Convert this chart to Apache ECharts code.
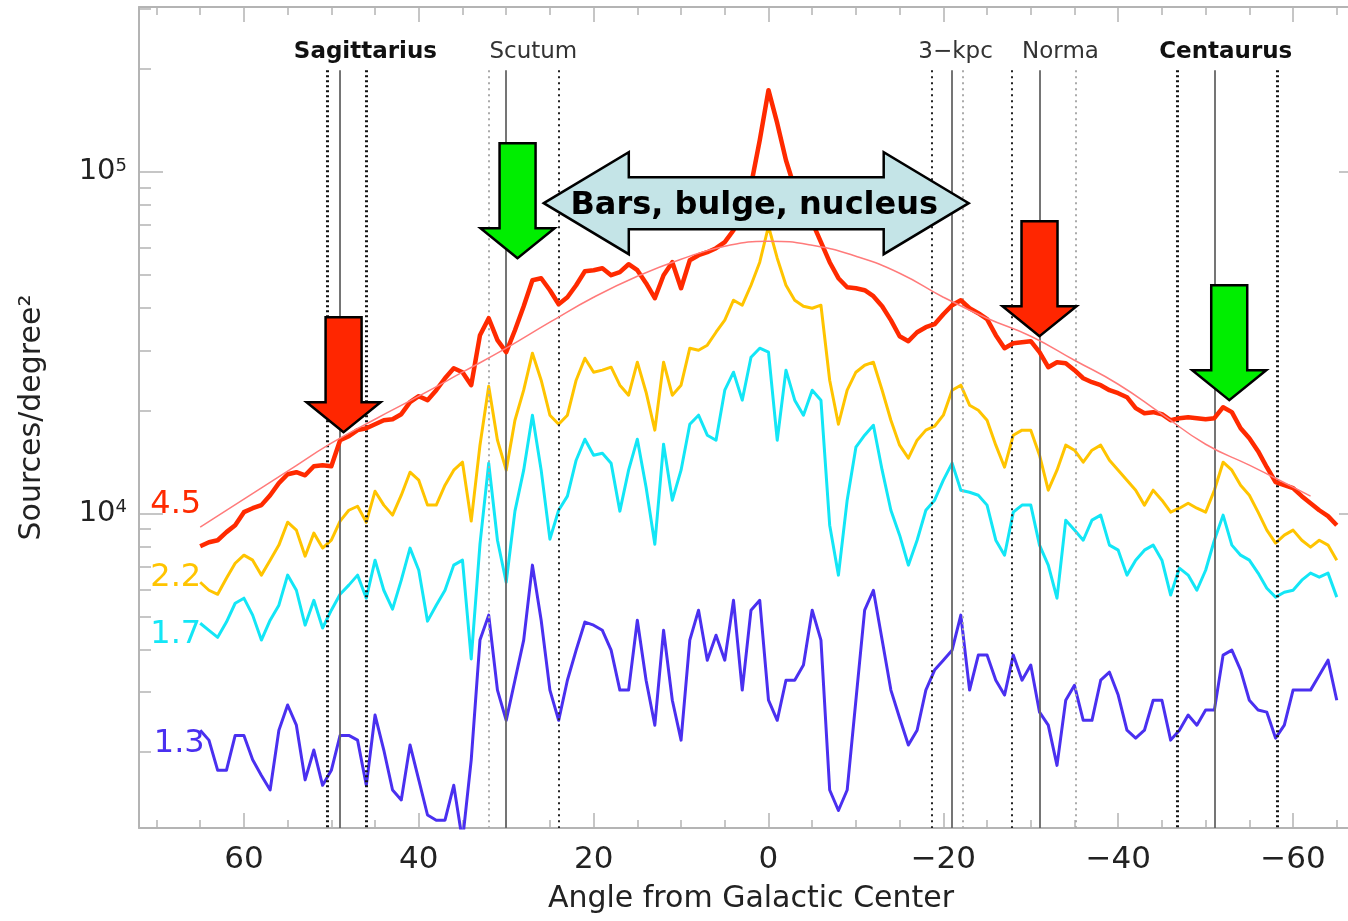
<!DOCTYPE html>
<html>
<head>
<meta charset="utf-8">
<script src="https://cdn.jsdelivr.net/npm/echarts@6/dist/echarts.min.js"></script>
<style>
html,body{margin:0;padding:0;background:#fff;}
#chart{width:1348px;height:921px;}
</style>
</head>
<body>
<div id="chart"></div>
<script>
// ---------------- DATA ----------------
const angles = [65,64,63,62,61,60,59,58,57,56,55,54,53,52,51,50,49,48,47,46,45,44,43,42,41,40,39,38,37,36,35,34,33,32,31,30,29,28,27,26,25,24,23,22,21,20,19,18,17,16,15,14,13,12,11,10,9,8,7,6,5,4,3,2,1,0,-1,-2,-3,-4,-5,-6,-7,-8,-9,-10,-11,-12,-13,-14,-15,-16,-17,-18,-19,-20,-21,-22,-23,-24,-25,-26,-27,-28,-29,-30,-31,-32,-33,-34,-35,-36,-37,-38,-39,-40,-41,-42,-43,-44,-45,-46,-47,-48,-49,-50,-51,-52,-53,-54,-55,-56,-57,-58,-59,-60,-61,-62,-63,-64,-65];

const mag45 = [8020,8240,8350,8820,9240,10090,10360,10580,11310,12270,13030,13210,12940,13750,13850,13750,16390,16840,17540,17770,18250,18750,18880,19530,21180,22050,21470,22960,24890,26630,25920,23750,33270,37300,32170,29670,34400,40450,48190,48850,45050,41000,42970,46590,51210,51560,52260,49850,50870,53680,51560,47220,42680,49850,54410,45660,55150,57040,58200,59790,62270,67500,78300,91430,123800,173500,138900,108200,89600,77250,71260,62270,54410,48850,45970,45660,45050,43260,40450,36810,33040,31950,33940,35110,35830,38320,40720,42110,39900,38590,37060,33270,30470,31510,31720,31950,29670,26810,27730,27540,26280,24890,24230,23750,22960,22500,21900,20340,19660,19800,19530,18750,19010,19140,19010,18880,19010,20470,19800,17770,16610,15220,13660,12350,12100,11860,11240,10720,10220,9820,9240];

const mag22 = [6290,5960,5800,6465,7150,7550,7300,6600,7300,8080,9430,8940,7500,8760,7920,8350,9500,10220,10500,9430,11620,10580,9890,11310,13210,12520,10580,10580,12100,13390,14130,9500,15850,23590,16390,13390,18750,22960,29470,24560,19400,18250,19400,24560,28490,25920,26280,26810,23750,22200,27730,22650,17540,27730,22200,23750,30470,30060,31100,33940,36810,42110,40720,46590,54410,69340,55900,46590,42110,40450,39900,40720,24560,18250,22960,25920,27170,27730,22960,18750,15850,14520,16390,17540,18010,19400,22960,23750,20750,20060,18750,15850,13660,16950,17540,17540,14810,11700,13390,15850,15320,14130,15320,15850,14320,13390,12520,11700,10580,11700,10940,10090,10360,10720,10360,10090,11700,14130,13390,12100,11310,10090,8940,8190,8640,8940,8350,7970,8350,8080,7300];

const mag17 = [4770,4550,4340,4810,5460,5650,5040,4260,4870,5390,6600,5960,4710,5570,4620,5210,5800,6170,6600,5650,7300,5960,5250,6380,7920,6820,4840,5390,5960,7060,7300,3750,8130,14040,8350,6290,10160,13390,19400,13390,8410,10220,11240,14320,16500,14810,15010,14040,10160,13390,16500,11940,8130,15960,10940,13390,18250,19400,16950,16390,22960,25920,21470,28680,30470,29670,16390,26280,21470,19400,22960,21470,9240,6600,10940,15640,16950,18130,13390,10220,8640,7060,8350,10220,10940,12520,14040,11700,11540,11310,10580,8350,7550,10090,10580,10580,8080,7060,5650,9560,8940,8350,9560,9890,8080,7810,6600,7300,7810,8080,7300,5770,6920,6600,5960,6820,8350,9890,8080,7550,7300,6690,6040,5690,5880,5960,6380,6690,6510,6690,5690];

const mag13 = [2320,2170,1770,1770,2240,2240,1900,1710,1550,2320,2750,2400,1660,2030,1600,1770,2240,2240,2170,1600,2570,2030,1550,1450,2100,1660,1310,1265,1265,1600,1100,1900,4260,5040,3040,2480,3250,4260,7060,4870,3040,2480,3250,3980,4810,4710,4550,3980,3040,3040,4870,3250,2400,4550,2840,2170,4260,5210,3720,4400,3720,5570,3040,5210,5570,2840,2480,3250,3250,3600,5210,4260,1550,1350,1550,2840,5210,5960,4260,3040,2520,2100,2320,3040,3480,3720,3980,5040,3040,3850,3850,3250,2940,3850,3250,3600,2620,2400,1830,2840,3140,2480,2480,3250,3430,2940,2320,2200,2320,2840,2840,2170,2320,2570,2400,2660,2660,3850,3980,3480,2840,2660,2620,2200,2400,3040,3040,3040,3360,3720,2840];

// smooth model fit to the 4.5 curve
const fitAngles = [65,60,55,50,45,40,35,30,25,20,15,10,5,0,-5,-10,-15,-20,-25,-30,-35,-40,-45,-50,-55,-60,-62];
const fitValues = [9120,11010,13300,16060,18880,22050,25920,30470,36310,42970,49510,55520,60610,62670,61020,56650,50520,42970,37300,33040,28100,23900,19530,15950,13850,11940,11240];

const seriesNames = ['4.5','2.2','1.7','1.3'];

// spiral-arm tangent markers (angles)
const armNames = ['Sagittarius','Scutum','3\u2212kpc','Norma','Centaurus'];
const armLabelAngles = [46.1, 26.9, -21.4, -33.4, -52.3];
const solidLines = [49, 30, -21, -31, -51];
const boldDotted = [50.5, 46, -46.7, -58.2];
const midDotted = [24, -18.7, -27.8];
const lightDotted = [32, -22.2, -35.2];

const xMajorTicks = [-60,-40,-20,0,20,40,60];
const xMinorTicks = [-65,-55,-50,-45,-35,-30,-25,-15,-10,-5,5,10,15,25,30,35,45,50,55,65,70];
const yMajorTicks = [10000,100000];
const yMinorTicks = [2000,3000,4000,5000,6000,7000,8000,9000,20000,30000,40000,50000,60000,70000,80000,90000,200000,300000];

// ---------------- STYLE ----------------
const colors = ['#ff2a00','#ffc400','#13e6f6','#4a30f0'];
const widths = [4.5,3,3,3];
const FONT = 'DejaVu Sans';
const frame = '#b4b4b4';
const LINE_TOP = 198500; // top value of arm marker lines

const chart = echarts.init(document.getElementById('chart'), null, {renderer:'canvas'});

function xAxisDef(pos, ticks, len, showLine, showLabel){
  return {
    type:'value', position:pos, min:-68, max:72, inverse:true, gridIndex:0,
    axisLine:{show:showLine, onZero:false, lineStyle:{color:frame, width:2}},
    splitLine:{show:false},
    axisTick:{show:true, inside:true, length:len, customValues:ticks, lineStyle:{color:frame, width:1.5}},
    axisLabel:{show:showLabel, customValues:ticks, margin:16, color:'#222', fontSize:31, fontFamily:FONT,
      formatter:function(v){ return v<0 ? '\u2212'+Math.abs(v) : String(v); }}
  };
}
function yAxisDef(pos, ticks, len, showLine, showLabel, withName){
  const a = {
    type:'log', logBase:10, position:pos, min:1200, max:304000, gridIndex:0,
    axisLine:{show:showLine, onZero:false, lineStyle:{color:frame, width:2}},
    splitLine:{show:false},
    axisTick:{show:true, inside:true, length:len, customValues:ticks, lineStyle:{color:frame, width:1.5}},
    axisLabel:{show:showLabel, customValues:ticks, margin:12, color:'#222', fontSize:29, fontFamily:FONT,
      formatter:function(v){ return '10{s|' + Math.round(Math.log10(v)) + '}'; },
      rich:{s:{fontSize:18, verticalAlign:'top', color:'#222', fontFamily:FONT, padding:[0,0,12,0]}}}
  };
  if(withName){
    a.name = 'Sources/degree\u00b2';
    a.nameLocation = 'middle';
    a.nameGap = 92;
    a.nameTextStyle = {fontSize:30, color:'#222', fontFamily:FONT};
  }
  return a;
}

const mags = [mag45, mag22, mag17, mag13];
const series = mags.map(function(arr, k){
  return {
    name: seriesNames[k], type:'line', xAxisIndex:0, yAxisIndex:0,
    data: angles.map(function(a,i){ return [a, arr[i]]; }),
    showSymbol:false, symbol:'none', clip:true, silent:true,
    lineStyle:{color:colors[k], width:widths[k], join:'round'},
    z: 5 - k
  };
});
series.push({
  name:'fit', type:'line', xAxisIndex:0, yAxisIndex:0, smooth:true, symbol:'none', silent:true,
  data: fitAngles.map(function(a,i){ return [a, fitValues[i]]; }),
  lineStyle:{color:'#ff7b7b', width:1.5}, z:6
});

function vlines(list, style){
  return list.map(function(a){ return [{coord:[a, LINE_TOP], lineStyle:style}, {coord:[a, 1200]}]; });
}
series.push({
  name:'arms', type:'line', xAxisIndex:0, yAxisIndex:0, data:[], silent:true, z:2,
  markLine:{
    symbol:['none','none'], silent:true, animation:false, label:{show:false},
    data: [].concat(
      vlines(solidLines, {color:'#666', width:1.8, type:'solid'}),
      vlines(boldDotted, {color:'#111', width:3, type:[2,3]}),
      vlines(midDotted, {color:'#222', width:2, type:[2,4]}),
      vlines(lightDotted, {color:'#aaa', width:2, type:[2,4]})
    )
  }
});

chart.setOption({
  animation:false,
  backgroundColor:'#fff',
  grid:{left:139, right:-15, top:7, bottom:93, outerBoundsMode:'none', containLabel:false},
  xAxis:[
    Object.assign(xAxisDef('bottom', xMajorTicks, 15, true, true), {
      name:'Angle from Galactic Center', nameLocation:'middle', nameGap:56,
      nameTextStyle:{fontSize:30, color:'#222', fontFamily:FONT}
    }),
    xAxisDef('bottom', xMinorTicks, 8, false, false),
    xAxisDef('top', xMajorTicks, 15, true, false),
    xAxisDef('top', xMinorTicks, 8, false, false)
  ],
  yAxis:[
    yAxisDef('left', yMajorTicks, 24, true, true, true),
    yAxisDef('left', yMinorTicks, 12, false, false, false),
    yAxisDef('right', yMajorTicks, 24, true, false, false),
    yAxisDef('right', yMinorTicks, 12, false, false, false)
  ],
  series: series
});

// ---------------- ANNOTATIONS (anchored to data coordinates) ----------------
const seriesLabelAnchors = [[67.8,10580],[67.8,6470],[67.8,4420],[67.4,2120]];
const arrowTips = [
  {angle:48.6, value:17300, color:'#ff2600'},
  {angle:-31.0, value:33040, color:'#ff2600'},
  {angle:28.7, value:55900, color:'#00ee00'},
  {angle:-52.7, value:21470, color:'#00ee00'}
];
const bandStart = 25.7, bandEnd = -22.9, bandValue = 81000;

function px(a, v){ return chart.convertToPixel({xAxisIndex:0, yAxisIndex:0}, [a, v]); }

const g = [];
armNames.forEach(function(n, i){
  const p = px(armLabelAngles[i], 100000);
  g.push({type:'text', x:p[0], y:52, z:50, style:{text:n, fontSize:23, fontFamily:FONT,
    fontWeight:(i===0||i===4)?'bold':'normal', fill:(i===0||i===4)?'#111':'#333', align:'center', verticalAlign:'middle'}});
});
seriesNames.forEach(function(n, k){
  const p = px(seriesLabelAnchors[k][0], seriesLabelAnchors[k][1]);
  g.push({type:'text', x:p[0], y:p[1], z:50, style:{text:n, fontSize:32, fontFamily:FONT, fill:colors[k], align:'center', verticalAlign:'middle'}});
});
arrowTips.forEach(function(t){
  const p = px(t.angle, t.value), x = p[0], y = p[1];
  const L = 115, hh = 30, sw = 18, hw = 37;
  g.push({type:'polygon', z:60, shape:{points:[[x,y],[x-hw,y-hh],[x-sw,y-hh],[x-sw,y-L],[x+sw,y-L],[x+sw,y-hh],[x+hw,y-hh]]},
    style:{fill:t.color, stroke:'#000', lineWidth:2.5, lineJoin:'miter'}});
});
(function(){
  const a = px(bandStart, bandValue), b = px(bandEnd, bandValue);
  const L = a[0], R = b[0], cy = a[1], hl = 85, hh = 51, sh = 26;
  g.push({type:'polygon', z:60, shape:{points:[[L,cy],[L+hl,cy-hh],[L+hl,cy-sh],[R-hl,cy-sh],[R-hl,cy-hh],[R,cy],[R-hl,cy+hh],[R-hl,cy+sh],[L+hl,cy+sh],[L+hl,cy+hh]]},
    style:{fill:'#c4e4e7', stroke:'#000', lineWidth:2.5, lineJoin:'miter'}});
  g.push({type:'text', z:61, x:(L+R)/2 - 2, y:cy+3, style:{text:'Bars, bulge, nucleus', fontSize:32, fontWeight:'bold', fontFamily:'DejaVu Sans', fill:'#000', align:'center', verticalAlign:'middle'}});
})();
chart.setOption({graphic:g});
</script>
</body>
</html>
